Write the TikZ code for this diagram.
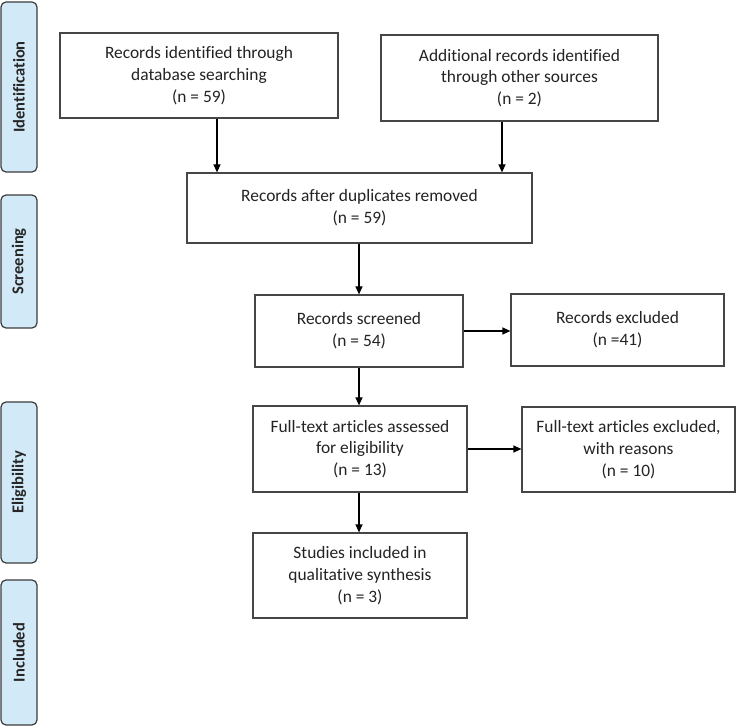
\documentclass[tikz,border=0pt]{standalone}
\usepackage{fontspec}
\setmainfont{Carlito}[Ligatures={NoCommon}]
\usetikzlibrary{arrows.meta}
\definecolor{sidefill}{RGB}{210,233,248}
\definecolor{sidedraw}{RGB}{60,60,60}
\definecolor{boxdraw}{RGB}{70,70,70}
\definecolor{txt}{RGB}{35,35,35}
\begin{document}
\begin{tikzpicture}[x=1pt,y=-1pt,
  box/.style={draw=boxdraw,line width=1.2pt,fill=white,align=center,text=txt,
    font=\fontsize{17.4}{21.7}\selectfont,inner sep=0pt},
  side/.style={draw=sidedraw,line width=1.2pt,fill=sidefill,rounded corners=5pt,
    minimum width=36pt,inner sep=0pt,rotate=90,
    font=\fontsize{16.5}{18}\selectfont\bfseries,text=black!85},
  arr/.style={draw=black,line width=1.2pt,-{Triangle[length=8pt,width=7pt]}}]
\useasboundingbox (0,0) rectangle (737,727);
% phase labels
\node[side,minimum width=170pt,minimum height=36pt] (s1) at (19,87) {Identification};
\node[side,minimum width=133pt,minimum height=36pt] (s2) at (19,261.5) {Screening};
\node[side,minimum width=161pt,minimum height=36pt] (s3) at (19,482.5) {Eligibility};
\node[side,minimum width=145pt,minimum height=36pt] (s4) at (19,652.5) {Included};
% boxes
\node[box,minimum width=278pt,minimum height=85pt] (b1) at (199,75.5)
  {Records identified through\\database searching\\(n = 59)};
\node[box,minimum width=277pt,minimum height=86pt] (b2) at (519.5,78)
  {Additional records identified\\through other sources\\(n = 2)};
\node[box,minimum width=345pt,minimum height=70pt] (b3) at (359.5,208)
  {Records after duplicates removed\\(n = 59)};
\node[box,minimum width=208pt,minimum height=72pt] (b4) at (359,331)
  {Records screened\\(n = 54)};
\node[box,minimum width=213pt,minimum height=72pt] (b5) at (617.5,330)
  {Records excluded\\(n =41)};
\node[box,minimum width=214pt,minimum height=86pt] (b6) at (360,449)
  {Full-text articles assessed\\for eligibility\\(n = 13)};
\node[box,minimum width=213pt,minimum height=85pt] (b7) at (628.5,449.5)
  {Full-text articles excluded,\\with reasons\\(n = 10)};
\node[box,minimum width=214pt,minimum height=85pt] (b8) at (360,575.5)
  {Studies included in\\qualitative synthesis\\(n = 3)};
% connectors
\coordinate (c1) at (217,0);
\coordinate (c2) at (502,0);
\draw[arr] (b1.south -| c1) -- (b3.north -| c1);
\draw[arr] (b2.south -| c2) -- (b3.north -| c2);
\draw[arr] (b3.south -| b4.north) -- (b4.north);
\draw[arr] (b4.east) -- (b5.west |- b4.east);
\draw[arr] (b4.south) -- (b6.north -| b4.south);
\draw[arr] (b6.east) -- (b7.west |- b6.east);
\draw[arr] (b6.south -| b4.south) -- (b8.north -| b4.south);
\end{tikzpicture}
\end{document}
